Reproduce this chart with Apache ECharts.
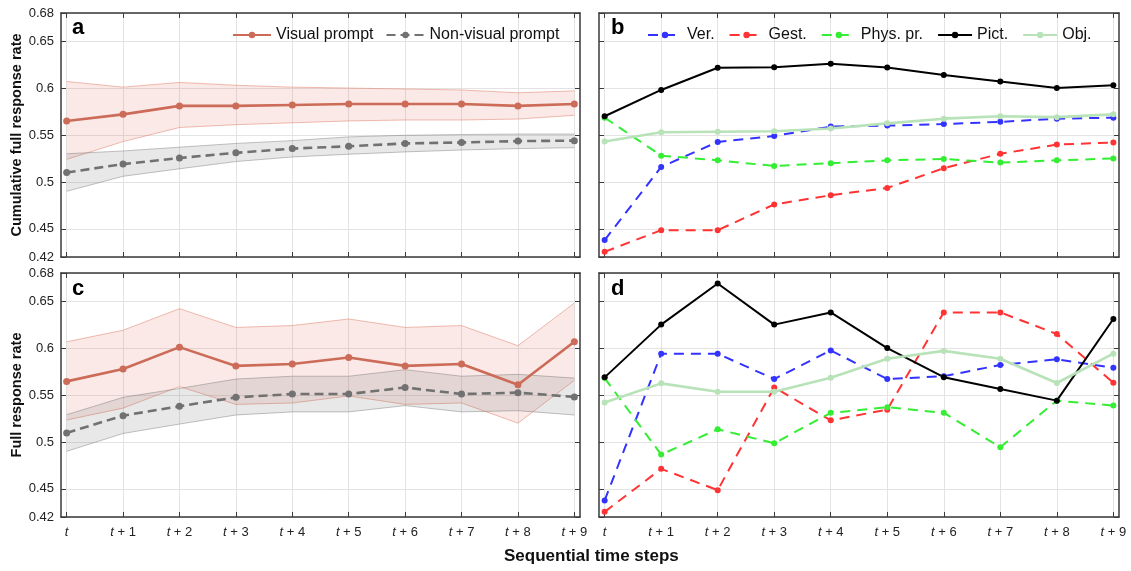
<!DOCTYPE html>
<html><head><meta charset="utf-8">
<script src="https://cdn.jsdelivr.net/npm/echarts@6/dist/echarts.min.js"></script>
<style>html,body{margin:0;padding:0;background:#fff}#c{width:1131px;height:571px}</style>
</head><body><div id="c"></div>
<script>
// ---------- data ----------
const steps = ['t', 't + 1', 't + 2', 't + 3', 't + 4', 't + 5', 't + 6', 't + 7', 't + 8', 't + 9'];
const yTicks = [0.42, 0.45, 0.5, 0.55, 0.6, 0.65, 0.68];

// panel a: cumulative
const cumVisual    = [0.565, 0.572, 0.581, 0.581, 0.582, 0.583, 0.583, 0.583, 0.581, 0.583];
const cumVisualHi  = [0.607, 0.601, 0.606, 0.603, 0.601, 0.600, 0.599, 0.598, 0.595, 0.597];
const cumVisualLo  = [0.524, 0.543, 0.558, 0.561, 0.563, 0.565, 0.566, 0.566, 0.567, 0.571];
const cumNonVis    = [0.510, 0.519, 0.5255, 0.531, 0.5355, 0.538, 0.541, 0.542, 0.5435, 0.544];
const cumNonVisHi  = [0.530, 0.533, 0.537, 0.541, 0.544, 0.548, 0.5497, 0.5505, 0.551, 0.551];
const cumNonVisLo  = [0.490, 0.506, 0.514, 0.5217, 0.5266, 0.5295, 0.532, 0.534, 0.5355, 0.5365];

// panel b: cumulative by prompt type
const cumVer   = [0.438, 0.516, 0.5426, 0.549, 0.559, 0.560, 0.5617, 0.564, 0.5674, 0.5685];
const cumGest  = [0.4255, 0.4486, 0.4486, 0.476, 0.4858, 0.4936, 0.5146, 0.530, 0.5398, 0.542];
const cumPhys  = [0.5685, 0.528, 0.523, 0.517, 0.520, 0.523, 0.5245, 0.5206, 0.523, 0.525];
const cumPict  = [0.570, 0.598, 0.6217, 0.6223, 0.626, 0.622, 0.614, 0.607, 0.600, 0.603];
const cumObj   = [0.543, 0.553, 0.5535, 0.554, 0.557, 0.5624, 0.5674, 0.570, 0.569, 0.572];

// panel c: per step
const stepVisual   = [0.5645, 0.5777, 0.601, 0.581, 0.583, 0.590, 0.581, 0.583, 0.561, 0.6067];
const stepVisualHi = [0.6067, 0.619, 0.642, 0.622, 0.624, 0.631, 0.622, 0.624, 0.6025, 0.648];
const stepVisualLo = [0.5234, 0.536, 0.559, 0.540, 0.5415, 0.549, 0.540, 0.5415, 0.520, 0.5656];
const stepNonVis   = [0.5096, 0.528, 0.538, 0.5475, 0.551, 0.551, 0.558, 0.551, 0.5525, 0.548];
const stepNonVisHi = [0.529, 0.5475, 0.557, 0.567, 0.570, 0.570, 0.577, 0.570, 0.572, 0.568];
const stepNonVisLo = [0.490, 0.509, 0.519, 0.5287, 0.532, 0.532, 0.5387, 0.532, 0.5333, 0.5287];

// panel d: per step by prompt type
const stepVer  = [0.4376, 0.594, 0.594, 0.567, 0.5975, 0.567, 0.570, 0.582, 0.588, 0.579];
const stepGest = [0.4255, 0.4713, 0.4486, 0.558, 0.523, 0.5344, 0.638, 0.638, 0.615, 0.563];
const stepPhys = [0.568, 0.4865, 0.5135, 0.4986, 0.531, 0.537, 0.531, 0.4943, 0.544, 0.5387];
const stepPict = [0.5688, 0.625, 0.6688, 0.625, 0.638, 0.600, 0.569, 0.5564, 0.544, 0.631];
const stepObj  = [0.542, 0.5624, 0.5535, 0.5535, 0.5684, 0.5887, 0.597, 0.5887, 0.5628, 0.594];

// ---------- layout ----------
const FONT = 'Liberation Sans, Arial, sans-serif';
const grids = [
  {left: 61, top: 13, width: 519, height: 244},
  {left: 599, top: 13, width: 520, height: 244},
  {left: 61, top: 273, width: 519, height: 244},
  {left: 599, top: 273, width: 520, height: 244}
];
const xIdx = steps.map((s, i) => i);
const frame = {show: true, onZero: false, lineStyle: {color: '#3a3a3a', width: 1.5}};
const tick = {show: true, inside: true, length: 5, lineStyle: {color: '#3a3a3a', width: 1}};
const split = {show: true, lineStyle: {color: '#e3e3e3', width: 1}};

const xAxes = [], yAxes = [];
grids.forEach((g, gi) => {
  const bottomLabels = gi >= 2;
  xAxes.push({
    type: 'value', gridIndex: gi, min: -0.1, max: 9.1, position: 'bottom',
    axisLine: frame, axisTick: Object.assign({customValues: xIdx}, tick),
    splitLine: split,
    axisLabel: {
      show: bottomLabels, customValues: xIdx, margin: 9, fontSize: 13, color: '#222', fontFamily: FONT,
      formatter: v => steps[Math.round(v)].replace(/^t/, '{i|t}'),
      rich: {i: {fontStyle: 'italic', fontSize: 13, color: '#222', fontFamily: FONT}}
    }
  });
  xAxes.push({
    type: 'value', gridIndex: gi, min: -0.1, max: 9.1, position: 'top',
    axisLine: frame, axisTick: Object.assign({customValues: xIdx}, tick),
    splitLine: {show: false}, axisLabel: {show: false}
  });
  const leftLabels = gi % 2 === 0;
  yAxes.push({
    type: 'value', gridIndex: gi, min: 0.42, max: 0.68, position: 'left',
    axisLine: frame, axisTick: Object.assign({customValues: yTicks}, tick),
    splitLine: split,
    axisLabel: {
      show: leftLabels, customValues: yTicks, margin: 7, fontSize: 13, color: '#222', fontFamily: FONT,
      formatter: v => String(parseFloat(v.toFixed(2)))
    },
    name: gi === 0 ? 'Cumulative full response rate' : (gi === 2 ? 'Full response rate' : ''),
    nameLocation: 'middle', nameGap: 33,
    nameTextStyle: {fontSize: 14.5, fontWeight: 'bold', color: '#111', fontFamily: FONT}
  });
  yAxes.push({
    type: 'value', gridIndex: gi, min: 0.42, max: 0.68, position: 'right',
    axisLine: frame, axisTick: Object.assign({customValues: yTicks}, tick),
    splitLine: {show: false}, axisLabel: {show: false}
  });
});

function pts(arr) { return arr.map((v, i) => [i, v]); }

function band(lo, hi, fill, stroke, gi) {
  return {
    type: 'custom', xAxisIndex: 2 * gi, yAxisIndex: 2 * gi, silent: true, z: 1,
    data: lo.map((v, i) => [i, v, hi[i]]),
    encode: {x: 0, y: [1, 2]},
    renderItem: (params, api) => {
      if (params.dataIndex !== 0) return null;
      const up = hi.map((v, i) => api.coord([i, v]));
      const dn = lo.map((v, i) => api.coord([i, v]));
      return {type: 'group', children: [
        {type: 'polygon', shape: {points: up.concat(dn.slice().reverse())}, style: {fill: fill}},
        {type: 'polyline', shape: {points: up}, style: {fill: null, stroke: stroke, lineWidth: 0.9}},
        {type: 'polyline', shape: {points: dn}, style: {fill: null, stroke: stroke, lineWidth: 0.9}}
      ]};
    }
  };
}

function line(name, data, color, gi, opts) {
  opts = opts || {};
  return {
    type: 'line', name: name, xAxisIndex: 2 * gi, yAxisIndex: 2 * gi, data: pts(data),
    symbol: 'circle', symbolSize: opts.size || 6, z: 3,
    itemStyle: {color: color},
    lineStyle: {color: color, width: opts.width || 2, type: opts.dash ? [10, 7] : 'solid'},
    emphasis: {disabled: true}
  };
}

const RED = '#cc6b58', GRAY = '#717171';
const C_VER = '#3333ff', C_GEST = '#ff3333', C_PHYS = '#33ee33', C_PICT = '#000000', C_OBJ = '#b8e2b8';
const visFill = 'rgba(222,120,100,0.16)', visStroke = 'rgba(225,130,110,0.6)';
const grayFill = 'rgba(110,110,110,0.16)', grayStroke = 'rgba(120,120,120,0.5)';

const series = [
  band(cumVisualLo, cumVisualHi, visFill, visStroke, 0),
  band(cumNonVisLo, cumNonVisHi, grayFill, grayStroke, 0),
  line('Visual prompt', cumVisual, RED, 0, {width: 2.6, size: 7}),
  Object.assign(line('Non-visual prompt', cumNonVis, GRAY, 0, {width: 2.6, size: 7}), {lineStyle: {color: GRAY, width: 2.6, type: [9, 5]}}),

  line('Ver.', cumVer, C_VER, 1, {dash: true}),
  line('Gest.', cumGest, C_GEST, 1, {dash: true}),
  line('Phys. pr.', cumPhys, C_PHYS, 1, {dash: true}),
  line('Pict.', cumPict, C_PICT, 1),
  line('Obj.', cumObj, C_OBJ, 1, {width: 2.6}),

  band(stepVisualLo, stepVisualHi, visFill, visStroke, 2),
  band(stepNonVisLo, stepNonVisHi, grayFill, grayStroke, 2),
  line('Visual prompt', stepVisual, RED, 2, {width: 2.6, size: 7}),
  Object.assign(line('Non-visual prompt', stepNonVis, GRAY, 2, {width: 2.6, size: 7}), {lineStyle: {color: GRAY, width: 2.6, type: [9, 5]}}),

  line('Ver.', stepVer, C_VER, 3, {dash: true}),
  line('Gest.', stepGest, C_GEST, 3, {dash: true}),
  line('Phys. pr.', stepPhys, C_PHYS, 3, {dash: true}),
  line('Pict.', stepPict, C_PICT, 3),
  line('Obj.', stepObj, C_OBJ, 3, {width: 2.6})
];

const legendText = {fontSize: 16, color: '#111', fontFamily: FONT};
const option = {
  animation: false,
  backgroundColor: '#fff',
  grid: grids,
  xAxis: xAxes,
  yAxis: yAxes,
  series: series,
  legend: [
    {data: ['Visual prompt', 'Non-visual prompt'], left: 232, top: 27, padding: 0, itemWidth: 38, itemHeight: 8,
     itemGap: 12, textStyle: legendText, selectedMode: false},
    {data: ['Ver.', 'Gest.', 'Phys. pr.', 'Pict.', 'Obj.'], left: 647, top: 27, padding: 0, itemWidth: 34, itemHeight: 8,
     itemGap: 14, textStyle: legendText, selectedMode: false}
  ],
  graphic: [
    {type: 'text', left: 72, top: 17, style: {text: 'a', font: 'bold 22px ' + FONT, fill: '#000'}},
    {type: 'text', left: 611, top: 17, style: {text: 'b', font: 'bold 22px ' + FONT, fill: '#000'}},
    {type: 'text', left: 72, top: 278, style: {text: 'c', font: 'bold 22px ' + FONT, fill: '#000'}},
    {type: 'text', left: 611, top: 278, style: {text: 'd', font: 'bold 22px ' + FONT, fill: '#000'}},
    {type: 'text', left: 504, top: 548, style: {text: 'Sequential time steps', font: 'bold 17px ' + FONT, fill: '#111'}}
  ]
};
const chart = echarts.init(document.getElementById('c'), null, {renderer: 'canvas'});
chart.setOption(option);
</script>
</body></html>
